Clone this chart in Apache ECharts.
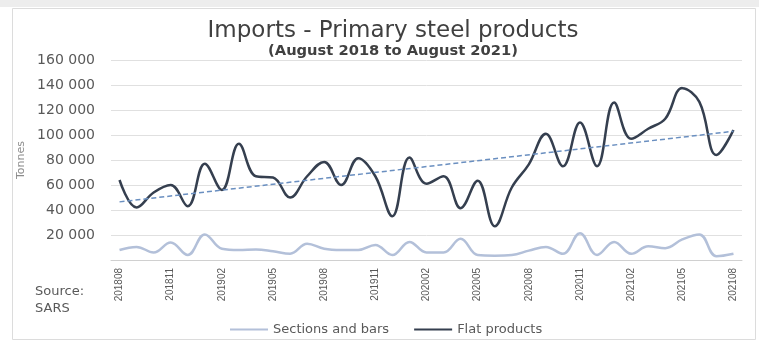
<!DOCTYPE html>
<html>
<head>
<meta charset="utf-8">
<script src="https://cdn.jsdelivr.net/npm/echarts@6/dist/echarts.min.js"></script>
<style>
html,body{margin:0;padding:0;background:#fff;}
#chart{width:759px;height:343px;}
</style>
</head>
<body>
<div id="chart"></div>
<script>
var categories = ['201808','201809','201810','201811','201812','201901','201902','201903','201904','201905','201906','201907','201908','201909','201910','201911','201912','202001','202002','202003','202004','202005','202006','202007','202008','202009','202010','202011','202012','202101','202102','202103','202104','202105','202106','202107','202108'];
var flatProducts = [64000, 42000, 54000, 60000, 43000, 77000, 56000, 93000, 67000, 66000, 50000, 67000, 78500, 60000, 81500, 67000, 35000, 82000, 61000, 67000, 41500, 63500, 27000, 58000, 76500, 101000, 75000, 110000, 75000, 126000, 97000, 105000, 113000, 137500, 126500, 84000, 104000];
var sectionsAndBars = [8000, 10500, 6000, 14000, 4000, 20500, 9000, 8000, 8500, 7000, 5000, 13000, 9000, 8000, 8000, 12000, 4000, 14500, 6000, 6000, 17000, 4000, 3500, 4000, 7500, 10500, 5000, 21500, 4000, 14500, 5000, 11000, 9500, 16500, 20500, 3000, 5000];
var trendEnds = [46500, 103000];
var yTicks = [0, 20000, 40000, 60000, 80000, 100000, 120000, 140000, 160000];

var FONT = 'DejaVu Sans';
var chart = echarts.init(document.getElementById('chart'), null, {renderer: 'canvas'});
function fmt(v){ return String(v).replace(/\B(?=(\d{3})+(?!\d))/g, ' '); }

chart.setOption({
  backgroundColor: '#ffffff',
  animation: false,
  title: [
    {text: 'Imports - Primary steel products', left: 388, top: 15, textAlign: 'center',
     textStyle: {fontFamily: FONT, fontSize: 23, fontWeight: 'normal', color: '#404040'}},
    {text: '(August 2018 to August 2021)', left: 388, top: 39, textAlign: 'center',
     textStyle: {fontFamily: FONT, fontSize: 14.7, fontWeight: 'bold', color: '#404040'}}
  ],
  graphic: [
    {type: 'rect', left: 0, top: 0, shape: {width: 759, height: 7}, style: {fill: '#ededed'}, silent: true},
    {type: 'rect', shape: {x: 12.5, y: 8.5, width: 743, height: 331}, style: {fill: 'none', stroke: '#dcdcdc', lineWidth: 1}, silent: true, z: -1},
    {type: 'text', left: 35, top: 285, style: {text: 'Source:', fontFamily: FONT, fontSize: 13, fill: '#595959'}},
    {type: 'text', left: 35, top: 302, style: {text: 'SARS', fontFamily: FONT, fontSize: 13, fill: '#595959'}}
  ],
  legend: {
    left: 225, top: 318,
    itemWidth: 38, itemHeight: 2, itemGap: 25, icon: 'rect',
    textStyle: {fontFamily: FONT, fontSize: 13, color: '#595959'},
    data: ['Sections and bars', 'Flat products']
  },
  grid: {left: 111, right: 17, top: 60, bottom: 83, containLabel: false},
  xAxis: {
    type: 'category', data: categories, boundaryGap: true,
    axisLine: {lineStyle: {color: '#d0d0d0'}},
    axisTick: {show: false},
    axisLabel: {interval: 2, rotate: 90, margin: 8, fontFamily: 'Liberation Sans', fontSize: 10, color: '#595959'}
  },
  yAxis: {
    type: 'value', min: 0, max: 160000, interval: 20000,
    name: 'Tonnes', nameLocation: 'middle', nameGap: 82, nameRotate: 90,
    nameTextStyle: {fontFamily: FONT, fontSize: 11, color: '#8c8c8c'},
    axisLine: {show: false}, axisTick: {show: false},
    axisLabel: {showMinLabel: false, margin: 16, fontFamily: FONT, fontSize: 14, color: '#595959', formatter: function(v){ return v === 0 ? '' : fmt(v); }},
    splitLine: {lineStyle: {color: '#e0e0e0', width: 1}}
  },
  series: [
    {name: 'Sections and bars', type: 'line', data: sectionsAndBars, smooth: 0.4, showSymbol: false,
     lineStyle: {color: '#b3c0d9', width: 2.5}, itemStyle: {color: '#b3c0d9'}, z: 2},
    {name: 'Flat products', type: 'line', data: flatProducts, smooth: 0.4, showSymbol: false,
     lineStyle: {color: '#353f4f', width: 2.5}, itemStyle: {color: '#353f4f'}, z: 3},
    {name: 'Linear (Flat products)', type: 'line', showSymbol: false, smooth: false,
     data: [[categories[0], trendEnds[0]], [categories[categories.length - 1], trendEnds[1]]],
     lineStyle: {color: '#6a8fc0', width: 1.5, type: [5, 3]}, itemStyle: {color: '#6a8fc0'}, z: 4}
  ]
});
</script>
</body>
</html>
